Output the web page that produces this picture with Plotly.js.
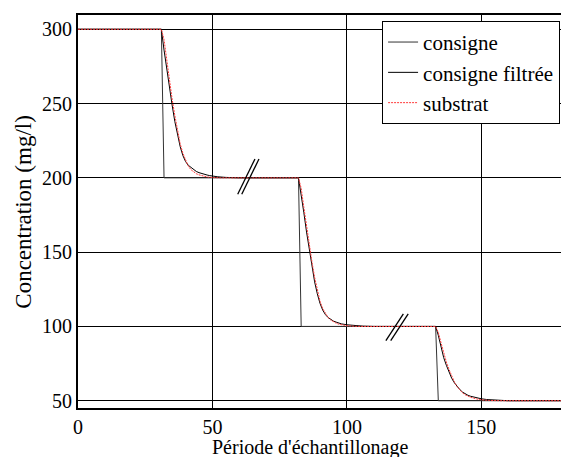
<!DOCTYPE html>
<html>
<head>
<meta charset="utf-8">
<script src="https://cdn.plot.ly/plotly-3.0.1.min.js"></script>
<style>
html,body{margin:0;padding:0;overflow:hidden;background:#fff;}
#chart{width:562px;height:457px;}
</style>
</head>
<body>
<div id="chart"></div>
<script>
// Consigne (setpoint steps)
var consigneX = [0, 31, 32, 82, 83, 133, 134, 180];
var consigneY = [300, 300, 200, 200, 100, 100, 50, 50];

// Consigne filtrée
var filtreeX = [0, 31, 32, 33, 34, 35, 36, 37, 38, 39, 40, 41, 42, 43, 44, 45, 46, 47, 48, 49, 50, 52, 55, 60,
  82, 83, 84, 85, 86, 87, 88, 89, 90, 91, 92, 93, 94, 95, 96, 97, 98, 100, 103, 106, 110,
  133, 134, 135, 136, 137, 138, 139, 140, 141, 142, 143, 144, 145, 146, 148, 150, 152, 155, 160, 180];
var filtreeY = [300, 300, 286, 273, 260, 249, 238, 229, 221, 215, 211, 208.5, 207, 205.5, 204.3, 203.5, 202.8, 202.3, 201.9, 201.5, 201.2, 200.7, 200.3, 200,
  200, 189.5, 176.5, 163.5, 151.5, 140, 130, 122, 115.5, 111, 108, 106, 104.7, 103.6, 102.9, 102.2, 101.7, 101.1, 100.5, 100.2, 100,
  100, 94, 86, 79, 73.8, 69, 65, 62, 59.5, 57.5, 55.8, 54.5, 53.7, 53, 52, 51.3, 50.8, 50.4, 50, 50];

// Substrat
var substratX = [0, 31, 32, 33, 34, 35, 36, 37, 38, 39, 40, 41, 42, 43, 44, 45, 46, 47, 48, 50, 53,
  82, 83, 84, 85, 86, 87, 88, 89, 90, 91, 92, 93, 94, 95, 96, 97, 98, 100, 103, 106,
  133, 134, 135, 136, 137, 138, 139, 140, 141, 142, 143, 144, 145, 146, 148, 150, 153, 157, 180];
var substratY = [300, 300, 293, 279, 266, 253, 242, 232, 223, 216.5, 211.5, 208, 205.5, 204, 202.8, 202, 201.4, 201, 200.6, 200.2, 200,
  200, 193, 180, 167, 155, 143.5, 133, 124, 117, 112, 108.5, 106, 104.3, 103, 102.2, 101.5, 101, 100.5, 100.1, 100,
  100, 96, 89, 82, 76, 71, 66.5, 62.5, 59.5, 57, 55.3, 54, 53, 52.3, 51.3, 50.6, 50.2, 50, 50];

var xTicks = [0, 50, 100, 150];
var yTicks = [50, 100, 150, 200, 250, 300];
var seriesNames = ['consigne', 'consigne filtrée', 'substrat'];
var xTitle = "Période d'échantillonage";
var yTitle = 'Concentration (mg/l)';

var font = 'Liberation Serif';

var traces = [
  {x: consigneX, y: consigneY, name: seriesNames[0], mode: 'lines',
   line: {color: '#333333', width: 1}},
  {x: filtreeX, y: filtreeY, name: seriesNames[1], mode: 'lines',
   line: {color: '#000000', width: 1}},
  {x: substratX, y: substratY, name: seriesNames[2], mode: 'lines',
   line: {color: '#ff3a3a', width: 1, dash: '2px,1px'}}
];

function brk(x0, y0, x1, y1) {
  return {type: 'line', xref: 'x', yref: 'y', x0: x0, y0: y0, x1: x1, y1: y1,
          line: {color: '#000', width: 1.3}};
}

var layout = {
  width: 562, height: 457,
  margin: {l: 78, r: 0, t: 15, b: 49},
  paper_bgcolor: '#fff', plot_bgcolor: '#fff',
  font: {family: font, size: 20, color: '#000'},
  showlegend: true,
  legend: {x: 0.996, y: 0.985, xanchor: 'right', yanchor: 'top',
           bgcolor: '#fff', bordercolor: '#000', borderwidth: 1,
           font: {family: font, size: 21, color: '#000'},
           tracegroupgap: 0, itemwidth: 30},
  xaxis: {range: [0, 180], tickvals: xTicks, ticktext: xTicks.map(String),
          showgrid: true, gridcolor: '#000', gridwidth: 1,
          showline: true, linecolor: '#000', linewidth: 2, mirror: true,
          zeroline: false, ticks: '', ticklen: 0,
          tickfont: {family: font, size: 20, color: '#000'}},
  yaxis: {range: [45.1, 309.6], tickvals: yTicks, ticktext: yTicks.map(String),
          showgrid: true, gridcolor: '#000', gridwidth: 1,
          showline: true, linecolor: '#000', linewidth: 2, mirror: true,
          zeroline: false, ticks: '', ticklen: 0,
          tickfont: {family: font, size: 20, color: '#000'}},
  annotations: [
    {text: xTitle, xref: 'paper', yref: 'paper', x: 0.479, y: -0.1,
     xanchor: 'center', yanchor: 'middle', showarrow: false,
     font: {family: font, size: 20, color: '#000'}},
    {text: yTitle, xref: 'paper', yref: 'paper', x: -0.112, y: 0.499,
     xanchor: 'center', yanchor: 'middle', textangle: -90, showarrow: false,
     font: {family: font, size: 23, color: '#000'}}
  ],
  shapes: [
    brk(59.4, 188.9, 65.8, 212.7), brk(60.9, 188.9, 67.3, 212.7),
    brk(114.5, 90.4, 121.0, 108.4), brk(116.3, 90.4, 122.8, 108.4)
  ]
};

Plotly.newPlot('chart', traces, layout, {staticPlot: true, displayModeBar: false});
</script>
</body>
</html>
